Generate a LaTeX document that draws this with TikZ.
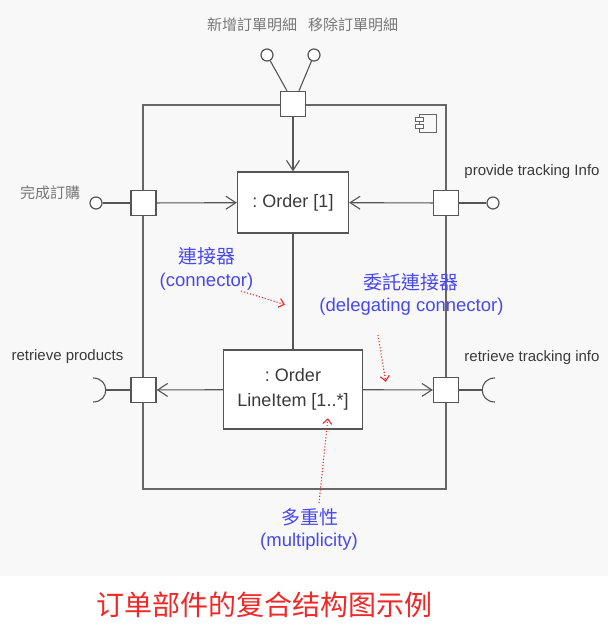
\documentclass[tikz,border=0pt]{standalone}
\usepackage{fontspec}
\setmainfont{Liberation Sans}
\newfontfamily\tcfont{Noto Sans CJK TC}
\newfontfamily\scfont{Noto Sans CJK SC}
\usetikzlibrary{arrows.meta}
\definecolor{linegray}{HTML}{555555}
\definecolor{boxgray}{HTML}{666666}
\definecolor{cjkgray}{HTML}{777777}
\definecolor{txtgray}{HTML}{3A3A3A}
\definecolor{noteblue}{HTML}{4848F0}
\definecolor{notered}{HTML}{F02828}
\definecolor{bggray}{HTML}{F8F8F8}
\begin{document}
\begin{tikzpicture}[x=1pt,y=-1pt,
  port/.style={draw=linegray, fill=white, line width=1.3pt, minimum size=25pt, inner sep=0pt},
  part/.style={draw=linegray, fill=white, line width=1.3pt, inner sep=0pt, text=txtgray, font=\fontsize{18}{25}\selectfont, align=center},
  wire/.style={draw=linegray, line width=1.1pt},
  arr/.style={wire, -{Straight Barb[length=10pt,width=13pt,line width=1.1pt]}},
  lolli/.style={draw=linegray, fill=white, circle, line width=1.2pt, minimum size=12pt, inner sep=0pt},
  cjklbl/.style={text=cjkgray, font=\tcfont\fontsize{15}{18}\selectfont, inner sep=0pt},
  enlbl/.style={text=txtgray, font=\fontsize{15}{18}\selectfont, inner sep=0pt},
  notecjk/.style={text=noteblue, font=\tcfont\fontsize{19}{22}\selectfont, inner sep=0pt},
  noteen/.style={text=noteblue, font=\fontsize{18.5}{22}\selectfont, inner sep=0pt},
  redarr/.style={draw=notered, line width=1.1pt, dotted, -{Straight Barb[length=5pt,width=9pt,line width=1.1pt,sep]}},
]
\fill[bggray] (0,0) rectangle (608,576);
\fill[white] (0,576) rectangle (608,637);
\useasboundingbox (0,0) rectangle (608,637);

% outer component
\node[draw=boxgray, line width=2pt, minimum width=303pt, minimum height=384pt, inner sep=0pt] (comp) at (294.5,296.5) {};
% component icon
\draw[draw=boxgray, line width=1pt] (419,114) rectangle (436,132);
\draw[draw=boxgray, line width=1pt, fill=white] (415,117) rectangle (423,121);
\draw[draw=boxgray, line width=1pt, fill=white] (415,124) rectangle (423,128);

% parts
\node[part, minimum width=111pt, minimum height=61pt] (order) at (293,202.5) {:~Order [1]};
\node[part, minimum width=139pt, minimum height=79pt] (item) at (293,389.5) {:~Order\\LineItem [1..*]};

% ports
\node[port] (ptop) at (293,104) {};
\node[port] (pleft) at (143.5,203) {};
\node[port] (pright) at (446,203) {};
\node[port] (pbl) at (143.5,390) {};
\node[port] (pbr) at (446,390) {};

% lollipops
\node[lolli] (ltopa) at (267,55) {};
\node[lolli] (ltopb) at (314,55) {};
\node[lolli] (lleft) at (96,203) {};
\node[lolli] (lright) at (493,203) {};
\draw[wire] (ltopa) -- ([xshift=-6pt]ptop.north);
\draw[wire] (ltopb) -- ([xshift=6pt]ptop.north);
\draw[wire] (lleft) -- (pleft);
\draw[wire] (pright) -- (lright);

% sockets
\coordinate (sockL) at (106,390);
\coordinate (sockR) at (483,390);
\draw[wire] (pbl) -- (sockL);
\draw[wire] (pbr) -- (sockR);
\draw[wire] (93,378) .. controls (110,378) and (110,402) .. (93,402);
\draw[wire] (495,378) .. controls (478,378) and (478,402) .. (495,402);

% connectors
\draw[arr] (ptop) -- (order);
\draw[arr] (pleft) -- (order);
\draw[arr] (pright) -- (order);
\draw[wire] (order) -- (item);
\draw[arr] (item) -- (pbl);
\draw[arr] (item) -- (pbr);

% port labels
\node[cjklbl] (t1) at (252,25) {新增訂單明細};
\node[cjklbl] (t2) at (353,25) {移除訂單明細};
\node[cjklbl] (t3) at (50,193) {完成訂購};
\node[enlbl] (t4) at (532,172) {provide tracking Info};
\node[enlbl] (t5) at (67.5,357) {retrieve products};
\node[enlbl] (t6) at (532,358) {retrieve tracking info};

% notes
\node[notecjk] (n1a) at (206.5,256) {連接器};
\node[noteen] (n1b) at (206.5,282) {(connector)};
\node[notecjk] (n2a) at (410.5,282) {委託連接器};
\node[noteen] (n2b) at (411.5,307) {(delegating connector)};
\node[notecjk] (n3a) at (309.5,517) {多重性};
\node[noteen] (n3b) at (309,542) {(multiplicity)};

\coordinate (r1s) at (241,291);
\coordinate (r1e) at (286,305);
\coordinate (r2s) at (378,335);
\coordinate (r2e) at (386,383);
\coordinate (r3s) at (319,503);
\coordinate (r3e) at (328,417);
\draw[redarr] (r1s) -- (r1e);
\draw[redarr] (r2s) -- (r2e);
\draw[redarr] (r3s) -- (r3e);

% caption
\node[text=notered, font=\scfont\fontsize{28}{32}\selectfont, inner sep=0pt] (cap) at (264,605) {订单部件的复合结构图示例};
\end{tikzpicture}
\end{document}
